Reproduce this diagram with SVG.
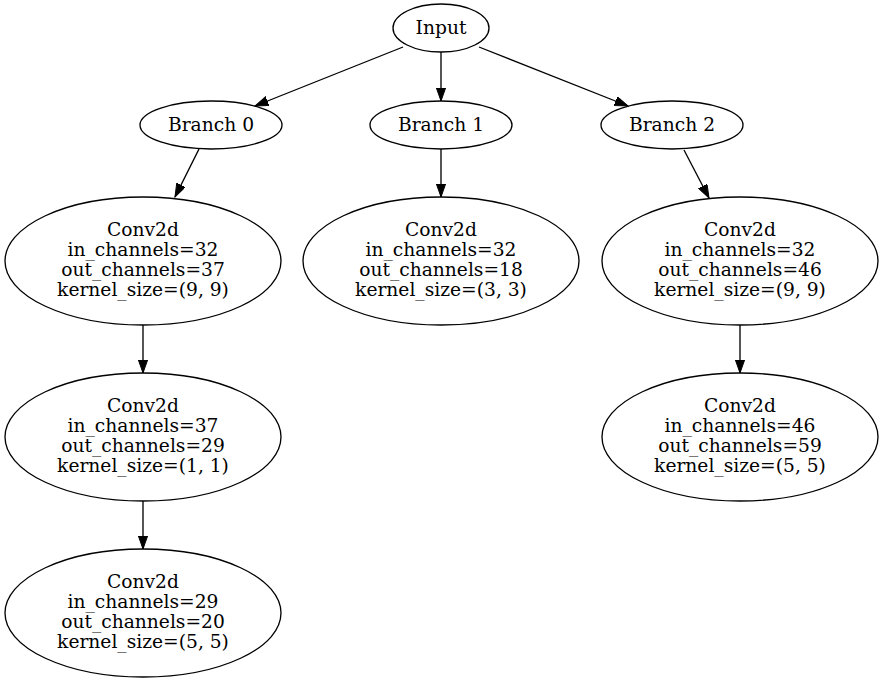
<svg xmlns="http://www.w3.org/2000/svg" width="883" height="683" viewBox="0 0 883 683">
<style>
.n ellipse{fill:none;stroke:#000;stroke-width:1.33}
.n text{font-family:"DejaVu Serif","Liberation Serif",serif;font-size:18.67px;text-anchor:middle;fill:#000}
.e line{stroke:#000;stroke-width:1.33;marker-end:url(#ah)}
</style>
<defs>
<marker id="ah" markerUnits="userSpaceOnUse" markerWidth="14" markerHeight="10" refX="13.3" refY="4.7" orient="auto" viewBox="0 0 14 10">
<path d="M0,0 L13.3,4.7 L0,9.4 z" fill="#000" stroke="#000" stroke-width="1"/>
</marker>
</defs>
<rect width="883" height="683" fill="#fff"/>
<g class="e" id="edges">
<line x1="403" y1="47" x2="255" y2="106"/>
<line x1="441" y1="52" x2="441" y2="101"/>
<line x1="479" y1="47" x2="628" y2="106"/>
<line x1="199" y1="149" x2="175" y2="197"/>
<line x1="441" y1="149" x2="441" y2="197"/>
<line x1="684" y1="150" x2="709" y2="198"/>
<line x1="143" y1="325" x2="143" y2="373"/>
<line x1="740" y1="325" x2="740" y2="373"/>
<line x1="143" y1="501" x2="143" y2="549"/>
</g>
<g class="n" id="input"><ellipse cx="441" cy="28" rx="48" ry="24"/><text x="441" y="34">Input</text></g>
<g class="n" id="branch0"><ellipse cx="211" cy="125" rx="71" ry="24"/><text x="211" y="131">Branch 0</text></g>
<g class="n" id="branch1"><ellipse cx="441" cy="125" rx="71" ry="24"/><text x="441" y="131">Branch 1</text></g>
<g class="n" id="branch2"><ellipse cx="672" cy="125" rx="71" ry="24"/><text x="672" y="131">Branch 2</text></g>
<g class="n" id="b0conv1"><ellipse cx="143" cy="261" rx="138" ry="64"/>
<text x="143" y="236">Conv2d</text><text x="143" y="256">in_channels=32</text><text x="143" y="276">out_channels=37</text><text x="143" y="296">kernel_size=(9, 9)</text></g>
<g class="n" id="b1conv1"><ellipse cx="441" cy="261" rx="138" ry="64"/>
<text x="441" y="236">Conv2d</text><text x="441" y="256">in_channels=32</text><text x="441" y="276">out_channels=18</text><text x="441" y="296">kernel_size=(3, 3)</text></g>
<g class="n" id="b2conv1"><ellipse cx="740" cy="261" rx="138" ry="64"/>
<text x="740" y="236">Conv2d</text><text x="740" y="256">in_channels=32</text><text x="740" y="276">out_channels=46</text><text x="740" y="296">kernel_size=(9, 9)</text></g>
<g class="n" id="b0conv2"><ellipse cx="143" cy="437" rx="138" ry="64"/>
<text x="143" y="412">Conv2d</text><text x="143" y="432">in_channels=37</text><text x="143" y="452">out_channels=29</text><text x="143" y="472">kernel_size=(1, 1)</text></g>
<g class="n" id="b2conv2"><ellipse cx="740" cy="437" rx="138" ry="64"/>
<text x="740" y="412">Conv2d</text><text x="740" y="432">in_channels=46</text><text x="740" y="452">out_channels=59</text><text x="740" y="472">kernel_size=(5, 5)</text></g>
<g class="n" id="b0conv3"><ellipse cx="143" cy="613" rx="138" ry="64"/>
<text x="143" y="588">Conv2d</text><text x="143" y="608">in_channels=29</text><text x="143" y="628">out_channels=20</text><text x="143" y="648">kernel_size=(5, 5)</text></g>
</svg>
